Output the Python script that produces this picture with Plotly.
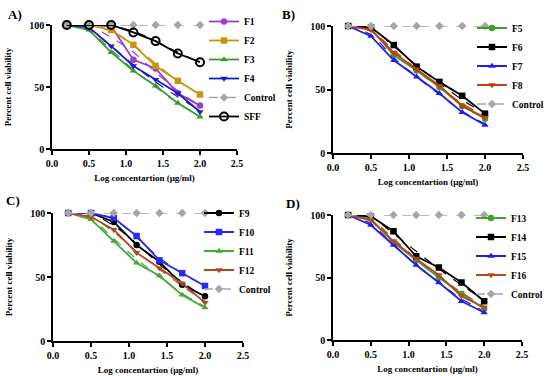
import plotly.graph_objects as go

x_log = [0.2, 0.5, 0.8, 1.1, 1.4, 1.7, 2.0]

# Panel A
F1 = [100, 100, 99, 72, 65, 45, 35]
F2 = [100, 100, 96, 84, 67, 55, 44]
F3 = [100, 96, 78, 63, 51, 37, 26]
F4 = [100, 98, 83, 67, 56, 45, 30]
SFF = [100, 100, 100, 94, 87, 77, 70]
Control = [100, 100, 100, 100, 100, 100, 100]
F1_fit = [100, 99, 90, 78, 62, 47, 35]
F2_fit = [100, 99, 95, 84, 69, 55, 44]
F3_fit = [100, 95, 80, 64, 50, 37, 27]
F4_fit = [100, 96, 83, 68, 54, 42, 31]
SFF_fit = [100, 100, 99, 95, 87, 78, 70]

# Panel B
F5 = [100, 98, 77, 65, 52, 37, 27]
F6 = [100, 99, 85, 68, 56, 45, 31]
F7 = [100, 92, 73, 60, 47, 32, 22]
F8 = [100, 97, 79, 66, 53, 37, 28]
F5_fit = [100, 96, 80, 65, 51, 38, 28]
F6_fit = [100, 98, 84, 69, 55, 42, 31]
F7_fit = [100, 93, 75, 60, 46, 33, 23]
F8_fit = [100, 96, 81, 66, 52, 39, 29]

# Panel C
F9 = [100, 100, 93, 75, 62, 44, 35]
F10 = [100, 100, 96, 82, 63, 53, 43]
F11 = [100, 95, 78, 61, 51, 36, 26]
F12 = [100, 97, 87, 69, 57, 45, 30]
F9_fit = [100, 99, 90, 76, 60, 46, 34]
F10_fit = [100, 100, 95, 81, 65, 53, 43]
F11_fit = [100, 95, 80, 64, 50, 37, 27]
F12_fit = [100, 97, 85, 70, 56, 43, 31]

# Panel D
F13 = [100, 97, 78, 64, 50, 37, 25]
F14 = [100, 99, 87, 67, 58, 46, 31]
F15 = [100, 92, 76, 60, 46, 31, 22]
F16 = [100, 96, 79, 65, 52, 35, 26]
F13_fit = [100, 95, 80, 64, 50, 37, 26]
F14_fit = [100, 98, 85, 71, 57, 44, 32]
F15_fit = [100, 93, 76, 60, 46, 33, 23]
F16_fit = [100, 96, 81, 65, 51, 38, 27]

x_ticks = [0.0, 0.5, 1.0, 1.5, 2.0, 2.5]
x_tick_text = ["0.0", "0.5", "1.0", "1.5", "2.0", "2.5"]
y_ticks = [0, 50, 100]

FONT = "Liberation Serif"
GREY = "#a6a6a6"

panels = [
    ("", "legend", [
        ("F1", F1, F1_fit, "#9b3fc8", "circle"),
        ("F2", F2, F2_fit, "#c8960a", "square"),
        ("F3", F3, F3_fit, "#3a9a2a", "triangle-up"),
        ("F4", F4, F4_fit, "#1c1cc8", "triangle-down"),
        ("Control", Control, None, GREY, "diamond"),
        ("SFF", SFF, SFF_fit, "#000000", "circle-open"),
    ]),
    ("2", "legend2", [
        ("F5", F5, F5_fit, "#3aa02a", "circle"),
        ("F6", F6, F6_fit, "#000000", "square"),
        ("F7", F7, F7_fit, "#2020e8", "triangle-up"),
        ("F8", F8, F8_fit, "#c83a10", "triangle-down"),
        ("Control", Control, None, GREY, "diamond"),
    ]),
    ("3", "legend3", [
        ("F9", F9, F9_fit, "#000000", "circle"),
        ("F10", F10, F10_fit, "#2a2af0", "square"),
        ("F11", F11, F11_fit, "#45a838", "triangle-up"),
        ("F12", F12, F12_fit, "#b04a1e", "triangle-down"),
        ("Control", Control, None, GREY, "diamond"),
    ]),
    ("4", "legend4", [
        ("F13", F13, F13_fit, "#45a030", "circle"),
        ("F14", F14, F14_fit, "#000000", "square"),
        ("F15", F15, F15_fit, "#2020e8", "triangle-up"),
        ("F16", F16, F16_fit, "#b8481e", "triangle-down"),
        ("Control", Control, None, GREY, "diamond"),
    ]),
]

fig = go.Figure()
for suf, leg, series in panels:
    xa, ya = "x" + suf, "y" + suf
    for name, vals, fit, color, sym in series:
        if fit is not None:
            fig.add_trace(go.Scatter(
                x=x_log, y=fit, mode="lines", xaxis=xa, yaxis=ya,
                line=dict(color=color, width=1.2, dash="dash", shape="spline"),
                showlegend=False, hoverinfo="skip", legend=leg))
    for name, vals, fit, color, sym in series:
        is_ctrl = name == "Control"
        open_c = sym == "circle-open"
        marker = dict(symbol=sym, size=8 if open_c else 6.5,
                      color=color, line=dict(width=2 if open_c else 0, color=color))
        fig.add_trace(go.Scatter(
            x=x_log, y=vals, mode="lines+markers", name=name, xaxis=xa, yaxis=ya,
            line=dict(color=color, width=1.8 if not is_ctrl else 1.3,
                      dash="dash" if is_ctrl else "solid"),
            marker=marker, legend=leg, cliponaxis=False))

domains = {
    "": ([52 / 550, 237 / 550], [(376 - 149) / 376, (376 - 25) / 376]),
    "2": ([333 / 550, 523 / 550], [(376 - 153) / 376, (376 - 26) / 376]),
    "3": ([53 / 550, 243 / 550], [(376 - 341) / 376, (376 - 213) / 376]),
    "4": ([333 / 550, 522 / 550], [(376 - 340) / 376, (376 - 215) / 376]),
}

BOLD10 = dict(family=FONT, size=10, color="black", weight="bold")
axis_common = dict(showgrid=False, zeroline=False, showline=True, linecolor="black",
                   linewidth=1.5, ticks="outside", ticklen=4, tickwidth=1.5, tickcolor="black",
                   tickfont=BOLD10)

layout = dict(width=550, height=376,
              margin=dict(l=0, r=0, t=0, b=0, autoexpand=False),
              paper_bgcolor="white", plot_bgcolor="white",
              font=dict(family=FONT, color="black"))

for suf, (xd, yd) in domains.items():
    layout["xaxis" + suf] = dict(axis_common, domain=xd, range=[0, 2.5],
                                 tickvals=x_ticks, ticktext=x_tick_text,
                                 anchor="y" + suf,
                                 title=dict(text="Log concentartion (µg/ml)",
                                            font=dict(family=FONT, size=9, weight="bold"),
                                            standoff=7))
    layout["yaxis" + suf] = dict(axis_common, domain=yd, range=[0, 100],
                                 tickvals=y_ticks, anchor="x" + suf,
                                 title=dict(text="Percent cell viability",
                                            font=dict(family=FONT, size=9, weight="bold"),
                                            standoff=16))

leg_common = dict(font=dict(family=FONT, size=9.5, color="black", weight="bold"),
                  bgcolor="rgba(0,0,0,0)", xanchor="left", yanchor="middle",
                  itemwidth=30, tracegroupgap=0, borderwidth=0)
layout["legend"] = dict(leg_common, x=204 / 550, y=1 - 69 / 376)
layout["legend2"] = dict(leg_common, x=472 / 550, y=1 - 66 / 376)
layout["legend3"] = dict(leg_common, x=199 / 550, y=1 - 251 / 376)
layout["legend4"] = dict(leg_common, x=471 / 550, y=1 - 256 / 376)

labels = [("A)", 6, 15), ("B)", 280, 15), ("C)", 4, 200), ("D)", 284, 204)]
layout["annotations"] = [dict(text=t, x=px / 550, y=1 - py / 376, xref="paper",
                              yref="paper", showarrow=False, xanchor="left", yanchor="middle",
                              font=dict(family=FONT, size=13, color="black", weight="bold"))
                         for t, px, py in labels]

fig.update_layout(**layout)
fig.write_html("out.html", config={"displayModeBar": False},
               post_script="document.body.style.margin='0';")
